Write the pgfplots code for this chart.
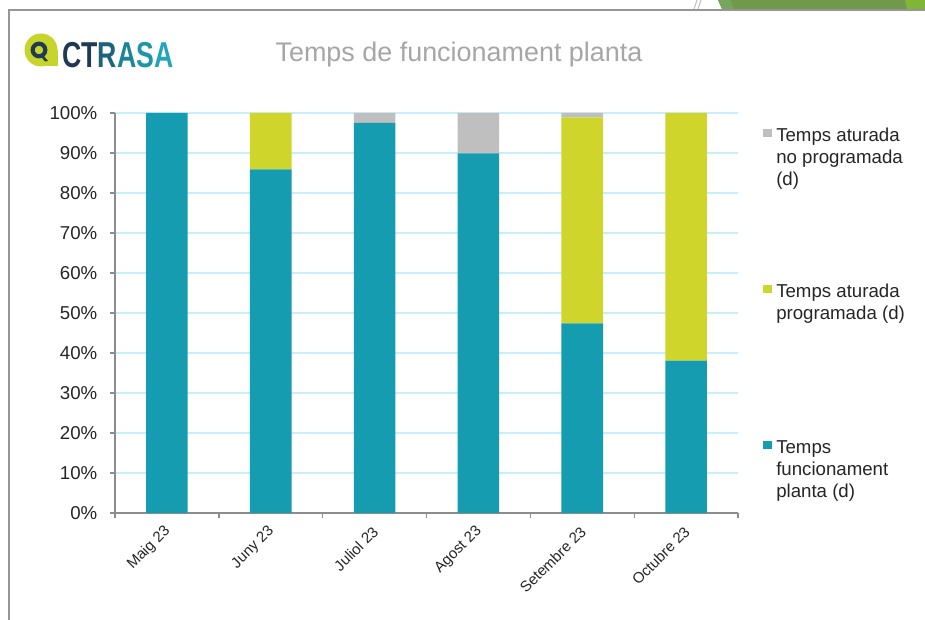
\documentclass[border=0pt]{standalone}
\usepackage{fontspec}
\setmainfont{Liberation Sans}
\usepackage{graphicx}
\usepackage{pgfplots}
\pgfplotsset{compat=1.18}
\definecolor{teal1}{RGB}{22,156,176}
\definecolor{lime1}{RGB}{207,213,42}
\definecolor{gray1}{RGB}{191,191,191}
\definecolor{gridc}{RGB}{200,240,250}
\definecolor{axisc}{RGB}{140,140,140}
\definecolor{txt}{RGB}{38,38,38}
\definecolor{frame}{RGB}{150,150,150}
\definecolor{navy}{RGB}{31,58,82}
\definecolor{blob}{RGB}{198,212,44}
\definecolor{greenA}{RGB}{113,153,76}
\definecolor{greenB}{RGB}{128,182,55}
\definecolor{greenC}{RGB}{120,165,92}
\definecolor{titlec}{RGB}{166,166,166}
\pgfplotsset{sqleg/.style={legend image code/.code={\path (0pt,0pt); \fill (0pt,3pt) rectangle (6.75pt,9pt);}}}
\begin{document}
\begin{tikzpicture}
\useasboundingbox (0,0) rectangle (693.75pt,465pt);
\fill[white] (0,0) rectangle (693.75pt,465pt);
\begin{scope}[x=0.75pt,y=-0.75pt,shift={(0,465pt)}]
  % green band top right
  \fill[greenA] (718,0) -- (925,0) -- (925,9) -- (722,9) -- cycle;
  \fill[greenC] (718,0) -- (730,0) -- (734,9) -- (722,9) -- cycle;
  \fill[greenB] (905,0) -- (925,0) -- (925,9) -- (907,9) -- cycle;
  \draw[frame!60, line width=0.8pt] (697,0) -- (694,9);
  \draw[frame!60, line width=0.8pt] (701,0) -- (698,9);
  % slide frame
  \draw[frame, line width=1.5pt] (9,620) -- (9,10) -- (925,10);
  % logo
  \fill[blob] (41,50) circle (16.5);
  \fill[blob] (41,50) rectangle (57.5,66.5);
  \draw[navy, line width=3.1pt] (39,50) circle (6.3);
  \fill[navy] (43,55) -- (48,61) -- (45,61.5) -- (41,56.5) -- cycle;
  \node[anchor=base west, inner sep=0pt] at (62,68) {\fontsize{27}{27}\selectfont\bfseries\scalebox{0.74}[1]{\textcolor{navy}{CT}\textcolor[RGB]{27,100,124}{R}\textcolor[RGB]{27,132,152}{A}\textcolor[RGB]{30,150,170}{S}\textcolor[RGB]{35,165,185}{A}}};
  % title
  \node[anchor=base, inner sep=0pt, text=titlec] at (459,62) {\fontsize{20.2}{23}\selectfont Temps de funcionament planta};
\end{scope}
\begin{axis}[
  at={(86.25pt,80.25pt)}, anchor=south west,
  scale only axis, width=467.25pt, height=300pt,
  ybar stacked, bar width=0.4,
  xmin=-0.5, xmax=5.5, ymin=0, ymax=100,
  axis x line*=bottom, axis y line*=left,
  axis line style={color=axisc, line width=1pt},
  xtick={0,...,5},
  xticklabels={Maig 23, Juny 23, Juliol 23, Agost 23, Setembre 23, Octubre 23},
  major x tick style={draw=none},
  minor xtick={-0.5,0.5,...,5.5},
  minor x tick style={color=axisc, line width=1pt},
  minor tick length=3.75pt,
  ytick={0,10,...,100},
  major tick length=3.75pt,
  major y tick style={color=axisc, line width=1pt},
  tick align=outside,
  ymajorgrids, grid style={color=gridc, line width=1.1pt},
  yticklabel={\pgfmathprintnumber{\tick}\%},
  /pgf/number format/assume math mode=true,
  yticklabel style={font=\fontsize{14}{16}\selectfont, text=txt, xshift=-6pt},
  xticklabel style={font=\fontsize{11.25}{13}\selectfont, text=txt, rotate=45, anchor=east, xshift=-2pt, yshift=-6.5pt},
  reverse legend,
  legend style={at={(axis description cs:1.0401,0.97)}, anchor=north west, draw=none, fill=none, inner sep=0pt, row sep=105pt, column sep=3pt, cells={anchor=base west}, nodes={inner sep=0pt, text depth=0pt, text height=12pt, text=txt}, font=\fontsize{14}{16.5}\selectfont},
]
\addplot[fill=teal1, draw=none, sqleg] coordinates {(0,100) (1,85.9) (2,97.5) (3,89.9) (4,47.4) (5,38.1)};
\addplot[fill=lime1, draw=none, sqleg] coordinates {(0,0) (1,14.1) (2,0) (3,0) (4,51.5) (5,61.9)};
\addplot[fill=gray1, draw=none, sqleg] coordinates {(0,0) (1,0) (2,2.5) (3,10.1) (4,1.1) (5,0)};
\addlegendentry{\begin{tabular}[t]{@{}l@{}}Temps\\funcionament\\planta (d)\end{tabular}}
\addlegendentry{\begin{tabular}[t]{@{}l@{}}Temps aturada\\programada (d)\end{tabular}}
\addlegendentry{\begin{tabular}[t]{@{}l@{}}Temps aturada\\no programada\\(d)\end{tabular}}
\end{axis}
\end{tikzpicture}
\end{document}
